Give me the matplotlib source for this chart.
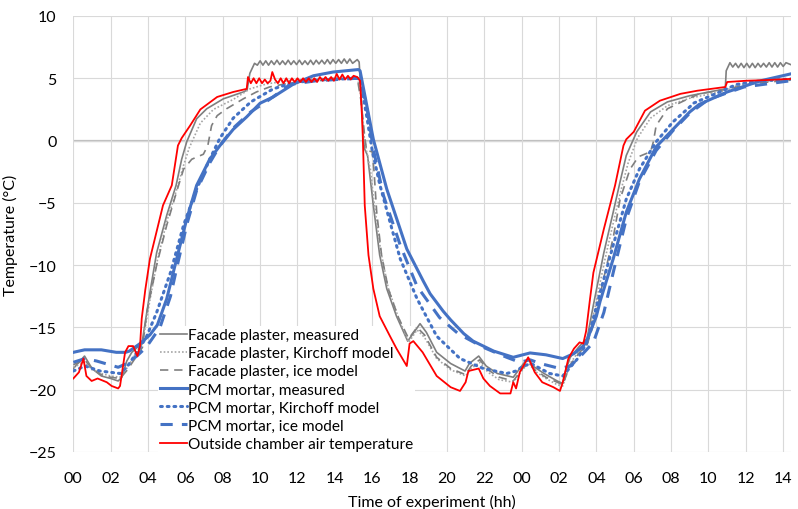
import matplotlib
matplotlib.use("Agg")
import matplotlib.pyplot as plt

plt.rcParams['font.family'] = ['Lato', 'DejaVu Sans']

# hours since start of experiment, temperature in degC
red_h = [0, 0.3, 0.54, 0.7, 0.98, 1.3, 1.79, 2.05, 2.4, 2.5, 2.77, 2.95, 3.2, 3.43, 3.57, 3.66, 3.85, 4.1,
         4.8, 5.27, 5.6, 5.8, 6.25, 6.8, 7.7, 8.56, 9.28, 9.35,
         9.5, 9.65, 9.8, 9.95, 10.1, 10.25, 10.4, 10.55, 10.65, 10.8, 10.95, 11.1, 11.25, 11.4, 11.55, 11.7,
         11.85, 12.0, 12.15, 12.3, 12.45, 12.6, 12.75, 12.9, 13.05, 13.2, 13.35, 13.5, 13.65, 13.8, 13.95,
         14.1, 14.25, 14.4, 14.55, 14.7, 14.85, 15.0, 15.2,
         15.35, 15.45, 15.5, 15.6, 15.8, 16.06, 16.4, 16.95, 17.3, 17.85, 18.0, 18.2, 18.7, 19.45, 20.2,
         20.7, 21.0, 21.15, 21.7, 21.95, 22.3, 22.85, 23.4, 23.55, 23.7, 23.9, 24.35, 24.7, 25.1, 25.7,
         26.05, 26.2, 26.5, 26.8, 27.1, 27.3, 27.45, 27.66, 27.84, 28.4, 29.0, 29.45, 29.6, 30.0, 30.6,
         31.4, 32.5, 33.4, 34.9, 35.0, 36.0, 37.0, 38.4]
red_t = [-19.1, -18.6, -17.5, -18.9, -19.3, -19.1, -19.4, -19.7, -19.9, -19.7, -17.0, -16.5, -16.5, -17.3,
         -16.5, -14.3, -12.0, -9.5,
         -5.2, -3.6, -0.4, 0.2, 1.2, 2.5, 3.5, 3.9, 4.15, 5.1,
         4.6, 5.0, 4.6, 5.0, 4.6, 4.9, 4.6, 4.8, 5.5, 4.9, 4.6, 5.0, 4.6, 5.0, 4.6, 5.0,
         4.7, 5.0, 4.7, 5.0, 4.7, 5.0, 4.7, 5.0, 4.7, 5.1, 4.8, 5.1, 4.8, 5.1, 4.8,
         5.35, 4.9, 5.3, 4.9, 5.2, 4.9, 5.2, 5.1,
         4.8, 2.0, 0.1, -5.2, -9.2, -11.9, -14.1, -15.7, -16.7, -18.1, -16.3, -16.1, -17.0, -18.9, -19.8,
         -20.1, -19.4, -18.5, -18.3, -19.1, -19.7, -20.3, -20.3, -19.4, -19.9, -18.6, -17.4, -18.6, -19.4, -19.8,
         -20.1, -19.4, -17.5, -16.7, -16.2, -16.3, -15.3, -12.7, -10.6, -7.1, -3.6, -0.4, 0.1, 0.7, 2.4,
         3.2, 3.75, 4.0, 4.3, 4.7, 4.8, 4.85, 4.95]

fp_meas_h = [0, 0.3, 0.6, 1.0, 1.5, 2.0, 2.4, 2.6, 2.86, 3.13, 3.5, 3.66, 4.1, 4.46, 5.0, 5.5, 5.8, 6.07,
             6.6, 7.14, 8.03, 9.1, 9.3, 9.45, 9.7,
             9.85, 10.0, 10.15, 10.3, 10.45, 10.6, 10.75, 10.9, 11.05, 11.2, 11.35, 11.5, 11.65, 11.8, 11.95,
             12.1, 12.25, 12.4, 12.55, 12.7, 12.85, 13.0, 13.15, 13.3, 13.45, 13.6, 13.75, 13.9, 14.05, 14.2,
             14.35, 14.5, 14.65, 14.8, 14.95, 15.2,
             15.3, 15.44, 15.53, 15.6, 15.75, 16.06, 16.4, 16.78, 17.3, 17.9, 18.56, 18.9, 19.45, 20.2, 20.97,
             21.2, 21.7, 22.1, 22.7, 23.55, 24.1, 24.35, 24.6, 25.2, 25.9, 26.2, 26.35, 26.6, 27.1, 27.5,
             27.84, 28.4, 28.9, 29.27, 29.6, 30.16, 30.9, 31.8, 33.0, 34.9, 34.95, 35.15,
             35.3, 35.45, 35.6, 35.75, 35.9, 36.05, 36.2, 36.35, 36.5, 36.65, 36.8, 36.95, 37.1, 37.25, 37.4,
             37.55, 37.7, 37.85, 38.0, 38.15, 38.4]
fp_meas_t = [-18.3, -17.8, -17.3, -18.3, -18.9, -19.1, -19.3, -19.0, -17.7, -17.0, -16.5, -16.4, -12.2, -9.0,
             -6.0, -3.6, -1.5, -0.1, 1.75, 2.55, 3.35, 3.9, 4.05, 5.4, 6.2,
             6.05, 6.4, 6.05, 6.4, 6.05, 6.4, 6.1, 6.45, 6.1, 6.4, 6.1, 6.45, 6.1, 6.4, 6.1,
             6.45, 6.1, 6.4, 6.1, 6.45, 6.1, 6.45, 6.15, 6.45, 6.15, 6.5, 6.15, 6.5, 6.2, 6.5,
             6.2, 6.55, 6.2, 6.55, 6.2, 6.5,
             6.3, 2.8, 0.1, -0.7, -1.2, -5.2, -9.2, -11.9, -14.1, -16.1, -14.7, -15.4, -17.0, -17.9, -18.5,
             -17.9, -17.3, -18.1, -18.7, -19.0, -17.9, -17.5, -18.1, -18.7, -19.3, -19.5, -18.5, -17.4, -16.5, -15.9,
             -13.2, -9.0, -5.75, -3.3, -1.2, 0.7, 2.3, 3.1, 3.6, 4.15, 5.6, 6.25,
             5.9, 6.2, 5.85, 6.2, 5.85, 6.2, 5.85, 6.2, 5.85, 6.2, 5.9, 6.2, 5.9, 6.25, 5.9,
             6.25, 5.9, 6.25, 5.95, 6.25, 6.1]

fp_kirch_h = [0, 0.6, 1.0, 1.5, 2.0, 2.5, 2.9, 3.3, 3.7, 4.1, 4.5, 5.0, 5.5, 5.9, 6.2, 6.8, 7.5, 8.56, 9.46,
              10.35, 11.5, 13.0, 15.2, 15.4, 15.55, 15.7, 15.9, 16.1, 16.45, 16.85, 17.35, 17.95, 18.4, 18.8,
              19.45, 20.2, 21.0, 21.3, 21.75, 22.2, 22.8, 23.55, 24.1, 24.4, 24.7, 25.3, 25.9, 26.2, 26.6,
              27.1, 27.5, 27.9, 28.45, 28.95, 29.35, 29.7, 30.2, 30.9, 31.8, 33.0, 34.9, 35.5, 36.5, 38.4]
fp_kirch_t = [-18.2, -17.8, -18.4, -18.7, -18.9, -19.0, -18.2, -17.2, -16.3, -12.8, -9.6, -6.5, -4.1, -2.0, -0.6,
              1.4, 2.5, 3.3, 4.15, 4.55, 4.8, 4.95, 5.1, 3.5, 0.5, -0.9, -2.3, -5.0, -8.8, -11.8, -14.0, -16.2,
              -15.2, -15.8, -17.5, -18.4, -18.9, -18.3, -17.8, -18.6, -19.2, -19.4, -18.3, -17.9, -18.5, -19.1,
              -19.6, -19.7, -17.9, -16.8, -16.2, -13.6, -9.6, -6.3, -3.8, -1.8, 0.2, 1.8, 2.8, 3.4, 4.0, 4.4,
              4.7, 4.9]

fp_ice_h = [0, 0.6, 1.0, 1.5, 2.0, 2.5, 2.9, 3.3, 3.7, 3.93, 4.46, 5.0, 5.53, 5.9, 6.34, 6.96, 7.2, 7.4, 7.7,
            8.2, 9.1, 9.8, 10.5, 11.5, 13.0, 15.2, 15.4, 15.6, 15.7, 16.0, 16.1, 16.24, 16.5, 16.86, 17.4,
            17.95, 18.4, 18.8, 19.45, 20.2, 21.0, 21.3, 21.75, 22.2, 22.8, 23.55, 24.1, 24.4, 24.7, 25.3,
            25.9, 26.2, 26.6, 27.1, 27.5, 27.9, 28.4, 28.9, 29.27, 29.8, 30.25, 30.9, 31.05, 31.2, 31.8,
            32.7, 33.5, 34.9, 35.5, 36.5, 38.4]
fp_ice_t = [-18.0, -17.6, -18.3, -18.8, -19.0, -19.1, -18.4, -17.5, -16.6, -13.8, -10.0, -6.8, -4.1, -2.3, -1.5,
            -1.1, -0.4, 1.2, 2.0, 2.55, 3.35, 3.9, 4.3, 4.6, 4.8, 5.0, 3.2, 0.3, -0.8, -0.9, -2.5, -5.75, -9.2,
            -11.9, -14.2, -15.9, -15.0, -15.6, -17.4, -18.3, -18.8, -18.1, -17.6, -18.4, -19.0, -19.3, -18.2,
            -17.8, -18.4, -19.0, -19.4, -19.6, -18.0, -17.0, -16.4, -14.5, -11.0, -7.8, -4.7, -2.3, -1.3, -0.9,
            -0.1, 1.2, 2.55, 3.2, 3.75, 4.1, 4.3, 4.6, 4.85]

pcm_meas_h = [0, 0.6, 1.5, 2.3, 2.8, 3.0, 3.57, 4.1, 4.5, 5.0, 5.53, 6.07, 6.6, 7.3, 7.85, 8.56, 9.28, 10.0,
              10.7, 11.8, 12.85, 13.9, 15.26, 15.35, 16.06, 16.78, 17.85, 18.74, 19.1, 19.8, 20.2, 20.9, 21.4,
              22.5, 23.55, 24.45, 25.3, 26.2, 26.8, 27.3, 27.5, 28.0, 28.2, 28.9, 29.6, 30.3, 31.2, 32.1, 33.0,
              33.5, 35.0, 36.8, 38.4]
pcm_meas_t = [-17.0, -16.8, -16.8, -17.0, -17.0, -16.9, -16.3, -15.6, -14.8, -12.7, -9.5, -6.3, -3.6, -1.5,
              -0.4, 0.9, 1.9, 3.0, 3.5, 4.55, 5.2, 5.5, 5.7, 5.6, 0.1, -3.9, -8.7, -11.3, -12.3, -13.7, -14.4,
              -15.5, -16.1, -16.9, -17.4, -17.05, -17.2, -17.5, -17.1, -16.5, -16.0, -14.1, -12.9, -9.5, -5.75,
              -3.1, -0.5, 0.9, 2.3, 2.9, 3.9, 4.8, 5.35]

pcm_kirch_h = [0, 0.63, 1.43, 2.5, 2.86, 3.4, 3.9, 4.46, 5.2, 5.9, 6.6, 7.3, 7.85, 8.56, 9.5, 10.7, 11.8, 13.0,
               15.2, 15.35, 15.7, 16.0, 16.4, 17.0, 17.5, 18.4, 19.45, 20.7, 21.95, 23.2, 23.7, 24.1, 24.5,
               25.5, 26.2, 27.0, 27.5, 28.2, 28.9, 29.6, 30.3, 31.2, 32.1, 33.0, 33.2, 34.6, 35.5, 36.5, 38.4]
pcm_kirch_t = [-18.5, -18.1, -18.5, -18.7, -18.2, -17.0, -15.8, -13.8, -10.6, -6.8, -3.9, -1.5, 0.2, 1.8, 3.1,
               4.15, 4.65, 4.85, 5.0, 4.9, 2.0, -0.8, -3.5, -6.8, -9.5, -12.7, -15.7, -17.5, -18.3, -18.7,
               -18.5, -18.1, -17.9, -18.7, -18.9, -17.5, -16.2, -12.2, -8.4, -4.7, -2.3, -0.1, 1.5, 2.7, 3.0,
               3.9, 4.5, 4.75, 4.95]

pcm_ice_h = [0, 0.63, 1.25, 2.4, 2.86, 3.4, 3.9, 4.64, 5.2, 5.6, 6.1, 6.6, 7.3, 7.85, 8.56, 9.5, 10.5, 11.6,
             13.0, 15.2, 15.35, 15.7, 16.06, 16.6, 17.5, 18.4, 19.6, 20.6, 21.95, 23.2, 23.9, 24.45, 25.0,
             26.05, 26.6, 27.1, 27.84, 28.4, 28.9, 29.6, 30.3, 31.2, 32.1, 33.0, 34.0, 35.9, 38.4]
pcm_ice_t = [-17.8, -17.5, -17.7, -18.2, -17.9, -17.3, -16.6, -15.0, -12.5, -9.8, -6.6, -4.0, -1.8, -0.4, 1.0,
             2.3, 3.3, 4.5, 4.8, 5.0, 4.9, 2.8, -0.7, -4.4, -8.4, -11.7, -14.2, -15.5, -16.6, -17.4, -17.8,
             -17.6, -17.9, -18.3, -18.1, -17.4, -16.2, -13.8, -10.6, -6.3, -3.3, -0.8, 0.8, 2.2, 3.3, 4.3, 4.8]

tick_hours = list(range(0, 39, 2))
tick_labels = ['00', '02', '04', '06', '08', '10', '12', '14', '16', '18', '20', '22',
               '00', '02', '04', '06', '08', '10', '12', '14']

gray = '#7f7f7f'
blue = '#4472c4'

fig = plt.figure(figsize=(7.98, 5.10), dpi=100)
ax = fig.add_axes([0.0919, 0.1118, 0.8989, 0.8549])

ax.plot(fp_meas_h, fp_meas_t, color=gray, lw=1.2, label='Facade plaster, measured')
ax.plot(fp_kirch_h, fp_kirch_t, color='#a5a5a5', lw=1.2, ls=(0, (1, 1.2)), label='Facade plaster, Kirchoff model')
ax.plot(fp_ice_h, fp_ice_t, color=gray, lw=1.2, ls=(0, (5, 3.5)), label='Facade plaster, ice model')
ax.plot(pcm_meas_h, pcm_meas_t, color=blue, lw=2.2, label='PCM mortar, measured')
ax.plot(pcm_kirch_h, pcm_kirch_t, color=blue, lw=2.2, ls=(0, (0.6, 1.6)), dash_capstyle='round',
        label='PCM mortar, Kirchoff model')
ax.plot(pcm_ice_h, pcm_ice_t, color=blue, lw=2.2, ls=(0, (4, 3)), label='PCM mortar, ice model')
ax.plot(red_h, red_t, color='#ff0000', lw=1.3, label='Outside chamber air temperature')

ax.set_xlim(0, 38.4)
ax.set_ylim(-25, 10)
ax.set_xticks(tick_hours)
ax.set_xticklabels(tick_labels)
ax.set_yticks(range(-25, 11, 5))
ax.grid(True, color='#d9d9d9', lw=0.8)
ax.set_axisbelow(True)
ax.axhline(0, color='#bfbfbf', lw=1.6, zorder=0.5)
for s in ax.spines.values():
    s.set_visible(False)
ax.tick_params(length=0, labelsize=11.5, colors='#000000')
ax.tick_params(axis='y', pad=12)
ax.tick_params(axis='x', pad=14)
ax.set_xlabel('Time of experiment (hh)', fontsize=11.5, labelpad=6)
ax.set_ylabel('Temperature (°C)', fontsize=11.5, labelpad=8)

# legend hides the grid but sits under the curves
leg = ax.legend(loc='upper left', bbox_to_anchor=(0.198, 0.358), bbox_transform=fig.transFigure,
                frameon=True, fancybox=False, edgecolor='none', facecolor='white', framealpha=1,
                fontsize=11.1, handlelength=1.75, handletextpad=0.12, labelspacing=0.27, borderpad=0.1,
                borderaxespad=0)
leg.set_zorder(1.5)

fig.savefig('out.png', dpi=100)
